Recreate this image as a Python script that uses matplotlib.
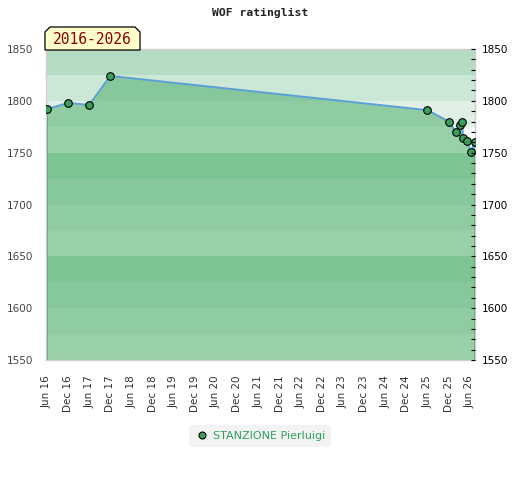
import matplotlib
matplotlib.use("Agg")
import matplotlib.pyplot as plt
import matplotlib.dates as mdates
from matplotlib.patches import Polygon
from matplotlib.lines import Line2D
from datetime import datetime, timedelta

# rating history
dates = ["2016-06-01", "2016-12-01", "2017-06-01", "2017-12-01", "2025-06-01",
         "2025-12-01", "2026-02-01", "2026-03-05", "2026-03-25", "2026-04-05",
         "2026-05-05", "2026-06-12", "2026-07-12"]
ratings = [1792, 1798, 1796, 1824, 1791, 1780, 1770, 1777, 1780, 1764, 1761, 1751, 1760]
player = "STANZIONE Pierluigi"
period = "2016-2026"
tick_dates = ["%d-%02d-01" % (2016 + i // 2, 6 if i % 2 == 0 else 12) for i in range(21)]

x = [datetime.strptime(d, "%Y-%m-%d") for d in dates]
xt = [datetime.strptime(d, "%Y-%m-%d") for d in tick_dates]

W, H = 520, 480
fig = plt.figure(figsize=(W / 100, H / 100), dpi=100)
L, R, T, B = 45.5, 474.5, 49, 360
ax = fig.add_axes([L / W, 1 - B / H, (R - L) / W, (B - T) / H])

ymin, ymax = 1550, 1850
ax.set_ylim(ymin, ymax)
ax.set_xlim(x[0] - timedelta(days=12), x[-1])

# horizontal bands, repeating every 100 points
band_cols = {50: "#f6fbf8", 75: "#e0f0e6", 0: "#cbe7d5", 25: "#b3dcc2"}
for lo in range(ymin, ymax, 25):
    ax.axhspan(lo, lo + 25, color=band_cols[lo % 100], lw=0, zorder=0)

ax.fill_between(x, ratings, ymin, color="#59b476", alpha=0.6, lw=0, zorder=1)
ax.vlines([x[0], x[-1]], ymin, [ratings[0], ratings[-1]], color="#3d9f5e", lw=1.2, zorder=2)
ax.plot(x, ratings, color="#5b9fd6", lw=1.4, zorder=3)
ax.plot(x, ratings, ls="none", marker="o", ms=5.5, mfc="#3a9e5c", mec="black",
        mew=0.8, zorder=4, clip_on=True)

for s in ax.spines.values():
    s.set_color("#d0d0d0")
    s.set_linewidth(1)

ax.set_yticks(range(ymin, ymax + 1, 50))
ax.tick_params(axis="y", length=0, pad=9, labelsize=7.5, labelcolor="#444444")
ax.set_xticks(xt)
ax.xaxis.set_major_formatter(mdates.DateFormatter("%b %y"))
ax.tick_params(axis="x", length=0, pad=11, labelsize=7.5, labelcolor="#333333",
               labelrotation=90)

ax2 = ax.twinx()
ax2.set_ylim(ymin, ymax)
ax2.set_yticks(range(ymin, ymax + 1, 50))
ax2.set_yticks(range(ymin, ymax + 1, 10), minor=True)
ax2.tick_params(axis="y", which="both", direction="in", length=3, width=0.8,
                color="black", pad=5, labelsize=7.5, labelcolor="black")
for s in ax2.spines.values():
    s.set_visible(False)

fig.text(0.5, 1 - 13 / H, "WOF ratinglist", ha="center", va="center",
         family="DejaVu Sans Mono", weight="bold", fontsize=8.2, color="#222222")

# period label box with cut corners
pts = [(45, 50), (45, 32), (50, 27), (135, 27), (140, 32), (140, 50)]
fig.patches.append(Polygon([(px / W, 1 - py / H) for px, py in pts], closed=True,
                           transform=fig.transFigure, fc="#ffffcc", ec="black", lw=0.9))
fig.text(92.5 / W, 1 - 39.5 / H, period, ha="center", va="center",
         family="DejaVu Sans Mono", fontsize=10.5, color="#8b0000")

handle = Line2D([], [], ls="none", marker="o", ms=5, mfc="#3a9e5c", mec="black", mew=0.8)
leg = fig.legend([handle], [player], loc="center", bbox_to_anchor=(260 / W, 1 - 436 / H),
                 frameon=True, fancybox=False, fontsize=8, handletextpad=0.4,
                 handlelength=1.2, borderpad=0.5, labelcolor="#2ea05a")
leg.get_frame().set_facecolor("#f0f0f0")
leg.get_frame().set_edgecolor("none")

fig.savefig("out.png", dpi=100)
